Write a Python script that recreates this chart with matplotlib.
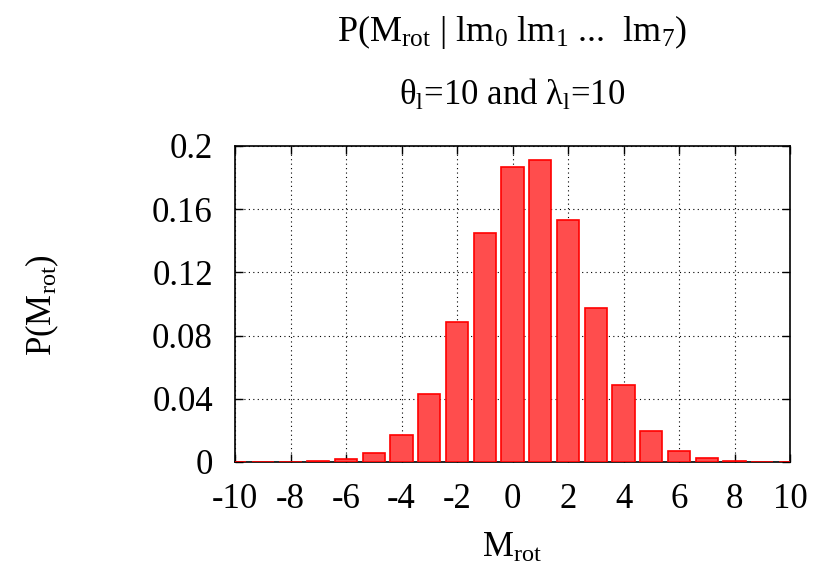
import matplotlib
matplotlib.use("Agg")
import matplotlib.pyplot as plt

plt.rcParams['font.family'] = ['Liberation Serif', 'DejaVu Serif']
plt.rcParams['mathtext.fontset'] = 'custom'
plt.rcParams['mathtext.rm'] = 'Liberation Serif'
plt.rcParams['mathtext.it'] = 'Liberation Serif:italic'
plt.rcParams['axes.unicode_minus'] = False

m_rot = [-10, -9, -8, -7, -6, -5, -4, -3, -2, -1, 0, 1, 2, 3, 4, 5, 6, 7, 8, 9, 10]
prob = [0.00005, 0.0001, 0.0002, 0.0005, 0.0019, 0.0057, 0.017, 0.043, 0.0886, 0.145,
        0.187, 0.191, 0.153, 0.0975, 0.049, 0.0196, 0.007, 0.0025, 0.0007, 0.0002, 0.0001]
x_ticks = [-10, -8, -6, -4, -2, 0, 2, 4, 6, 8, 10]
y_ticks = [0, 0.04, 0.08, 0.12, 0.16, 0.2]
y_labels = ['0', '0.04', '0.08', '0.12', '0.16', '0.2']

FS = 25

fig = plt.figure(figsize=(8.14, 5.74), dpi=100)
ax = fig.add_axes([235 / 814, 112 / 574, 555 / 814, 316 / 574])

ax.bar(m_rot, prob, width=0.8, color=(1.0, 0.3, 0.3), edgecolor='red', linewidth=1.2, zorder=3)

ax.set_xlim(-10, 10)
ax.set_ylim(0, 0.2)
ax.set_xticks(x_ticks)
ax.set_yticks(y_ticks)
ax.set_yticklabels(y_labels)
ax.tick_params(direction='in', top=True, right=True, length=6, width=1, labelsize=FS)
ax.tick_params(axis='y', pad=16)
ax.tick_params(axis='x', pad=15)
ax.grid(True, linestyle=(0, (1, 3)), color='black', linewidth=0.8, zorder=0)
for s in ax.spines.values():
    s.set_linewidth(1.2)

fig.text(512 / 814, 1 - 548 / 574, r'M$_\mathregular{rot}$', ha='center', va='center', fontsize=FS)
fig.text(42 / 814, 1 - 305 / 574, r'P(M$_\mathregular{rot}$)', ha='center', va='center',
         rotation=90, fontsize=FS)

fig.text(512 / 814, 1 - 32 / 574, r'P(M$_\mathregular{rot}$ | lm$_\mathregular{0}$ lm$_\mathregular{1}$ ...  lm$_\mathregular{7}$)',
         ha='center', va='center', fontsize=FS + 1)
fig.text(512 / 814, 1 - 95 / 574, r'θ$_\mathregular{l}$=10 and λ$_\mathregular{l}$=10',
         ha='center', va='center', fontsize=FS)

fig.savefig('out.png', dpi=100)
